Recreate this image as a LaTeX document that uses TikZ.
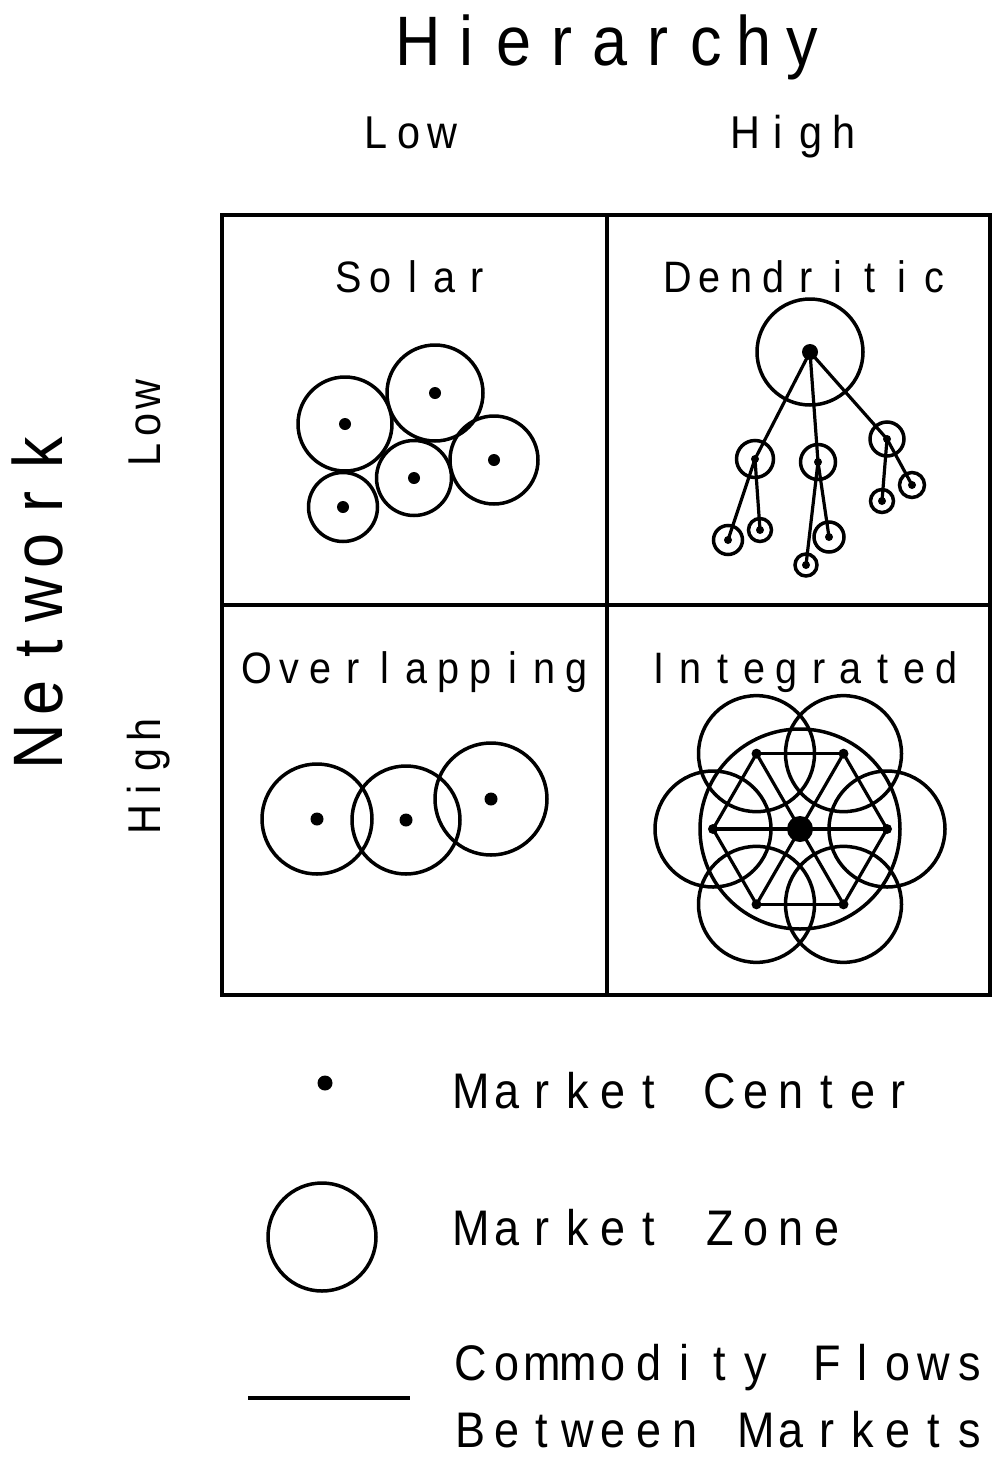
\documentclass[tikz,border=0pt]{standalone}
\usepackage{fontspec}
\usepackage{graphicx}
\setmainfont{Liberation Sans}
\usetikzlibrary{calc}

% fixed-pitch lettering: every character sits in a box of the same width
\newlength\advw
\newcommand\mono[2]{\setlength\advw{#1}\monoloop#2\relax}
\def\monoloop#1{\ifx#1\relax\else\makebox[\advw][c]{\scalebox{0.9}[1]{#1}}\expandafter\monoloop\fi}

\tikzset{
  zone/.style={draw, circle, line width=3.5pt, inner sep=0pt, outer sep=0pt},
  dot/.style={fill, circle, inner sep=0pt, outer sep=0pt},
  flow/.style={line width=3.2pt, line cap=round},
  frame/.style={line width=3.2pt},
  axis/.style={font=\fontsize{70}{84}\selectfont, anchor=base, inner sep=0pt, text depth=0pt},
  level/.style={font=\fontsize{46}{55}\selectfont, anchor=base, inner sep=0pt, text depth=0pt},
  celltitle/.style={font=\fontsize{44}{52}\selectfont, anchor=base, inner sep=0pt, text depth=0pt},
  legend/.style={font=\fontsize{50}{60}\selectfont, anchor=base west, inner sep=0pt, text depth=0pt},
}

\begin{document}
\begin{tikzpicture}[x=1pt, y=-1pt]
\useasboundingbox (0,0) rectangle (993,1459);

% ---- axis labels ----
\node[axis] (hier) at (610,65) {\mono{48pt}{Hierarchy}};
\node[level] (hlow) at (409,148) {\mono{33pt}{Low}};
\node[level] (hhigh) at (795,148) {\mono{33pt}{High}};
\node[axis, rotate=90] (net) at (62,600) {\mono{49pt}{Network}};
\node[level, rotate=90] (nlow) at (160,425) {\mono{30pt}{Low}};
\node[level, rotate=90] (nhigh) at (160,775) {\mono{30pt}{High}};

% ---- two by two frame ----
\coordinate (tl) at (222,215);
\coordinate (br) at (990,995);
\draw[frame] (tl) rectangle (br);
\draw[frame] (607,215) -- (607,995);
\draw[frame] (222,605) -- (990,605);

% ---- cell titles ----
\node[celltitle] (tsolar) at (413,292) {\mono{32pt}{Solar}};
\node[celltitle] (tdend) at (806,292) {\mono{32pt}{Dendritic}};
\node[celltitle] (tover) at (417,683) {\mono{32pt}{Overlapping}};
\node[celltitle] (tinteg) at (803,683) {\mono{32pt}{Integrated}};

% ---- solar ----
\foreach \n/\x/\y/\r in {sa/345/424/47, sb/435/393/48, sc/343/507/34.5, sd/414/478/37.5, se/494/460/44}{
  \node[zone, minimum size=2*\r] (\n) at (\x,\y) {};
  \node[dot, minimum size=12] (\n d) at (\n.center) {};
}

% ---- dendritic ----
\node[zone, minimum size=106] (dk) at (810,352) {};
\node[dot, minimum size=16] (dkd) at (dk.center) {};
\foreach \n/\x/\y/\r in {dl/755/459/18.5, dm/818/462/17.5, dr/887/439/17,
    dla/728/540/14.5, dlb/760/530/11.5, dma/806/565/11, dmb/829/537/15,
    dra/882/501/11.5, drb/912/485/12.5}{
  \node[zone, minimum size=2*\r] (\n) at (\x,\y) {};
}
\foreach \a/\b in {dk/dl, dk/dm, dk/dr, dl/dla, dl/dlb, dm/dma, dm/dmb, dr/dra, dr/drb}{
  \draw[flow] (\a.center) -- (\b.center);
}
\foreach \n in {dl, dm, dr, dla, dlb, dma, dmb, dra, drb}{
  \node[dot, minimum size=8] (\n d) at (\n.center) {};
}

% ---- overlapping ----
\foreach \n/\x/\y/\r in {oa/317/819/55, ob/406/820/54, oc/491/799/56}{
  \node[zone, minimum size=2*\r] (\n) at (\x,\y) {};
  \node[dot, minimum size=13] (\n d) at (\n.center) {};
}

% ---- integrated ----
\coordinate (ic) at (800,829);
\node[zone, minimum size=200] (iz) at (ic) {};
\foreach \i in {0,...,5}{
  \node[zone, minimum size=116] (v\i) at ($(ic)+(\i*60:87)$) {};
}
\foreach \i [evaluate=\i as \j using {int(mod(\i+1,6))}] in {0,...,5}{
  \draw[flow] (v\i.center) -- (v\j.center);
}
\foreach \i/\j in {0/3, 1/4, 2/5}{
  \draw[flow] (v\i.center) -- (v\j.center);
}
\foreach \i in {0,...,5}{
  \node[dot, minimum size=10] (vd\i) at (v\i.center) {};
}
\node[dot, minimum size=26] (icd) at (ic) {};

% ---- legend ----
\node[dot, minimum size=15] (lgdot) at (325,1083) {};
\node[legend] (lgc) at (453,1108) {\mono{35.6pt}{Market~Center}};
\node[zone, minimum size=108] (lgzone) at (322,1237) {};
\node[legend] (lgz) at (453,1245) {\mono{35.6pt}{Market~Zone}};
\coordinate (lf1) at (248,1398);
\coordinate (lf2) at (410,1398);
\draw[flow, line cap=butt] (lf1) -- (lf2);
\node[legend] (lgf1) at (453,1380) {\mono{35.6pt}{Commodity~Flows}};
\node[legend] (lgf2) at (453,1447) {\mono{35.6pt}{Between~Markets}};
\end{tikzpicture}
\end{document}
